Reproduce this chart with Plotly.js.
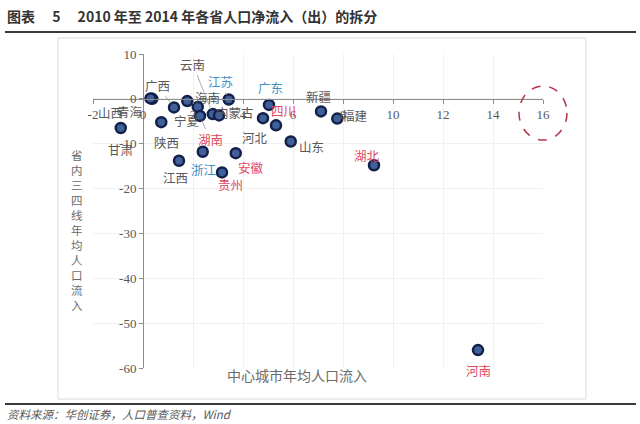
<!DOCTYPE html>
<html>
<head>
<meta charset="utf-8">
<script src="https://cdn.plot.ly/plotly-3.0.1.min.js"></script>
<style>
html,body{margin:0;padding:0;background:#fff;}
#chart{width:640px;height:424px;}
</style>
</head>
<body>
<div id="chart"></div>
<script>
// ---- data ----
const provinces = ['青海','山西','甘肃','广西','陕西','海南','宁夏','湖南','云南','内蒙古','浙江','江西','贵州','安徽','江苏','广东','四川','河北','山东','新疆','福建','湖北','河南'];
const centerCityInflow = [0.37, 0.3, -0.89, 1.24, 0.73, 1.77, 2.19, 2.28, 2.79, 3.04, 2.39, 1.44, 3.16, 3.71, 3.43, 5.04, 4.8, 5.32, 5.91, 7.12, 7.77, 9.24, 13.4];
const localCityInflow  = [0.0, 0.1, -6.5, -1.9, -5.2, -0.5, -1.8, -3.8, -3.4, -3.7, -11.8, -13.8, -16.4, -12.1, -0.15, -1.35, -4.3, -5.9, -9.5, -2.8, -4.4, -14.8, -56.0];
const xTickVals = [-2, 0, 2, 4, 6, 8, 10, 12, 14, 16];
const xTickText = ['-2', '0', '2', '4', '6', '8', '10', '12', '14', '16'];
const yTickVals = [10, 0, -10, -20, -30, -40, -50, -60];
const yTickText = ['10', '0', '-10', '-20', '-30', '-40', '-50', '-60'];
const titleText = '图表\u3000 5\u3000 2010 年至 2014 年各省人口净流入（出）的拆分';
const xTitleText = '中心城市年均人口流入';
const yTitleText = '省内三四线年均人口流入';
const sourceText = '资料来源：华创证券，人口普查资料，Wind';

// ---- styles (label placement offsets in px, colours) ----
const GRAY = '#595959', BLUE = '#3f8fc4', RED = '#e04862';
const labelStyle = {
  '青海': {ax: -22, ay: 13, c: GRAY},
  '山西': {ax: -40, ay: 14, c: GRAY},
  '甘肃': {ax: 0, ay: 21, c: GRAY},
  '广西': {ax: -17, ay: -22, c: GRAY, leader: true},
  '陕西': {ax: 5, ay: 20, c: GRAY},
  '海南': {ax: 20, ay: -4, c: GRAY},
  '宁夏': {ax: -11, ay: 14, c: GRAY},
  '湖南': {ax: 10, ay: 24, c: RED, leader: true},
  '云南': {ax: -20, ay: -50, c: GRAY, leader: true},
  '内蒙古': {ax: 16, ay: -3, c: GRAY},
  '浙江': {ax: 1, ay: 18, c: BLUE},
  '江西': {ax: -4, ay: 17, c: GRAY},
  '贵州': {ax: 8, ay: 12, c: RED},
  '安徽': {ax: 15, ay: 14, c: RED},
  '江苏': {ax: -8, ay: -18, c: BLUE, leader: true},
  '广东': {ax: 1, ay: -17, c: BLUE},
  '四川': {ax: 20, ay: -8, c: RED},
  '河北': {ax: -21, ay: 12, c: GRAY},
  '山东': {ax: 21, ay: 5, c: GRAY},
  '新疆': {ax: -3, ay: -15, c: GRAY},
  '福建': {ax: 18, ay: -3, c: GRAY},
  '湖北': {ax: -7, ay: -10, c: RED},
  '河南': {ax: 0, ay: 20, c: RED}
};

const L = 93, R = 97, T = 54, B = 56, W = 640, H = 424;
const PW = W - L - R, PH = H - T - B;
const px = v => (v - L) / PW;
const py = v => (H - B - v) / PH;

const xr = [-2, 16], yr = [-60, 10];
const serif = '"Liberation Serif", "Times New Roman", "Noto Sans CJK SC", serif';
const cjk = '"Noto Sans CJK SC", sans-serif';

const trace = {
  x: centerCityInflow,
  y: localCityInflow,
  text: provinces,
  type: 'scatter',
  mode: 'markers',
  hoverinfo: 'text+x+y',
  marker: {size: 10, color: '#40609a', line: {color: '#12204a', width: 2.5}}
};

const annotations = provinces.map((p, i) => {
  const s = labelStyle[p];
  return {
    x: centerCityInflow[i], y: localCityInflow[i], xref: 'x', yref: 'y',
    text: p, showarrow: true, arrowhead: 0, arrowwidth: 0.8,
    arrowcolor: s.leader ? '#9a9a9a' : 'rgba(0,0,0,0)',
    standoff: 5, ax: s.ax, ay: s.ay,
    font: {family: cjk, size: 12.5, color: s.c}
  };
});

annotations.push({
  xref: 'paper', yref: 'paper', x: px(5), y: py(16), xanchor: 'left', yanchor: 'middle',
  text: '<b>' + titleText + '</b>', showarrow: false,
  font: {family: cjk, size: 14, color: '#333333'}
});
annotations.push({
  xref: 'paper', yref: 'paper', x: px(5), y: py(414), xanchor: 'left', yanchor: 'middle',
  text: '<i>' + sourceText + '</i>', showarrow: false,
  font: {family: cjk, size: 11.5, color: '#595959'}
});
annotations.push({
  xref: 'paper', yref: 'paper', x: px(297), y: py(375), xanchor: 'center', yanchor: 'middle',
  text: xTitleText, showarrow: false,
  font: {family: cjk, size: 14, color: '#6b6b6b'}
});
annotations.push({
  xref: 'paper', yref: 'paper', x: px(77), y: py(230), xanchor: 'center', yanchor: 'middle',
  text: yTitleText.split('').join('<br>'), showarrow: false,
  font: {family: cjk, size: 11.5, color: '#6b6b6b'}
});

const layout = {
  width: W, height: H,
  margin: {l: L, r: R, t: T, b: B, pad: 0},
  paper_bgcolor: '#ffffff', plot_bgcolor: '#ffffff',
  showlegend: false,
  xaxis: {
    range: xr, anchor: 'free', position: (0 - yr[0]) / (yr[1] - yr[0]),
    tickvals: xTickVals, ticktext: xTickText,
    showline: true, linecolor: '#8c8c8c', linewidth: 1,
    ticks: 'outside', ticklen: 4, tickcolor: '#8c8c8c',
    showgrid: true, gridcolor: '#f1f1f1', zeroline: false,
    tickfont: {family: serif, size: 13, color: GRAY}
  },
  yaxis: {
    range: yr, anchor: 'free', position: (0 - xr[0]) / (xr[1] - xr[0]),
    tickvals: yTickVals, ticktext: yTickText,
    showline: true, linecolor: '#8c8c8c', linewidth: 1,
    ticks: 'outside', ticklen: 4, tickcolor: '#8c8c8c',
    showgrid: true, gridcolor: '#f1f1f1', zeroline: false,
    tickfont: {family: serif, size: 13, color: GRAY}
  },
  annotations: annotations,
  shapes: [
    {type: 'line', xref: 'paper', yref: 'paper', x0: px(5), x1: px(636), y0: py(32), y1: py(32),
     line: {color: '#3a3a3a', width: 2}},
    {type: 'rect', xref: 'paper', yref: 'paper', x0: px(58), x1: px(586), y0: py(38), y1: py(399),
     line: {color: '#dcdcdc', width: 1}, layer: 'below'},
    {type: 'line', xref: 'paper', yref: 'paper', x0: px(5), x1: px(636), y0: py(404), y1: py(404),
     line: {color: '#3a3a3a', width: 2}},
    {type: 'circle', xref: 'paper', yref: 'paper', xsizemode: 'pixel', ysizemode: 'pixel',
     xanchor: px(543), yanchor: py(113), x0: -24, x1: 24, y0: -27, y1: 27,
     line: {color: '#b5364a', width: 1.5, dash: 'dash'}}
  ]
};

Plotly.newPlot('chart', [trace], layout, {displayModeBar: false, staticPlot: true});
</script>
</body>
</html>
